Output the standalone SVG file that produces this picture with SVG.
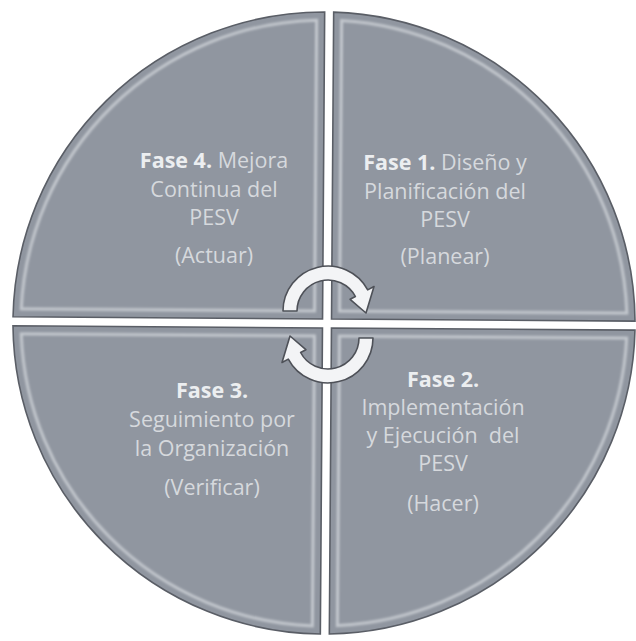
<svg xmlns="http://www.w3.org/2000/svg" width="636" height="641" viewBox="0 0 636 641">
<defs>
<style>
.q{fill:#9096a0;stroke:#5a5e66;stroke-width:1.6}
.hl{fill:none;stroke:#e4e7eb;stroke-opacity:0.6;stroke-width:3;filter:url(#soft)}
.t{font-family:"Open Sans","Noto Sans","Liberation Sans",sans-serif;font-size:21.5px;fill:#d6d9dd;text-anchor:middle}
.b{font-weight:bold;fill:#eceef0}
.arr{fill:#f3f4f6;stroke:#4e5158;stroke-width:1.6;stroke-linejoin:round}
</style>
<filter id="soft" x="-5%" y="-5%" width="110%" height="110%"><feGaussianBlur stdDeviation="0.9"/></filter>
</defs>
<rect width="636" height="641" fill="#ffffff"/>
<g transform="rotate(0.4 327 323.5)">
<g id="fase4">
<path class="q" d="M322.5,319 L322.5,12 A311,311 0 0 0 13,319 Z"/>
<path class="hl" d="M314.5,311 L314.5,20.2 A303,303 0 0 0 21.2,311 Z"/>
</g>
<g id="fase1">
<path class="q" d="M331.5,319 L331.5,12.1 A311,311 0 0 1 635,319 Z"/>
<path class="hl" d="M339.5,311 L339.5,20.4 A303,303 0 0 1 626.8,311 Z"/>
</g>
<g id="fase3">
<path class="q" d="M322.5,328 L13,328 A311,311 0 0 0 322.5,634 Z"/>
<path class="hl" d="M314.5,336 L21.3,336 A303,303 0 0 0 314.5,625.9 Z"/>
</g>
<g id="fase2">
<path class="q" d="M331.5,328 L635,328 A311,311 0 0 1 331.5,634 Z"/>
<path class="hl" d="M339.5,336 L626.7,336 A303,303 0 0 1 339.5,625.6 Z"/>
</g>
</g>
<g id="labels">
<text class="t" x="214" y="168"><tspan class="b">Fase 4.</tspan> Mejora</text>
<text class="t" x="214" y="197">Continua del</text>
<text class="t" x="214" y="225">PESV</text>
<text class="t" x="214" y="263">(Actuar)</text>
<text class="t" x="445" y="170"><tspan class="b">Fase 1.</tspan> Diseño y</text>
<text class="t" x="445" y="199">Planificación del</text>
<text class="t" x="445" y="227">PESV</text>
<text class="t" x="445" y="264">(Planear)</text>
<text class="t b" x="212" y="398">Fase 3.</text>
<text class="t" x="212" y="427">Seguimiento por</text>
<text class="t" x="212" y="456">la Organización</text>
<text class="t" x="212" y="495">(Verificar)</text>
<text class="t b" x="443" y="387">Fase 2.</text>
<text class="t" x="443" y="415">Implementación</text>
<text class="t" x="443" y="443" xml:space="preserve">y Ejecución  del</text>
<text class="t" x="443" y="471">PESV</text>
<text class="t" x="443" y="511">(Hacer)</text>
</g>
<g id="connectors">
<path class="arr" d="M283,311 A45,45 0 0 1 367.7,289.9 L374,286.5 L366,313 L350.1,299.3 L355.4,296.5 A31,31 0 0 0 297,311 Z"/>
<path class="arr" transform="rotate(180 328 324.5)" d="M283,311 A45,45 0 0 1 367.7,289.9 L374,286.5 L366,313 L350.1,299.3 L355.4,296.5 A31,31 0 0 0 297,311 Z"/>
</g>
</svg>
